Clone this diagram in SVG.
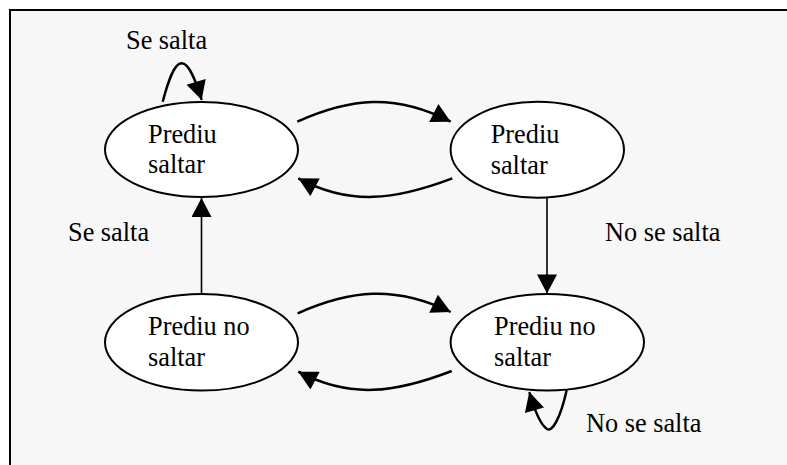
<svg xmlns="http://www.w3.org/2000/svg" width="787" height="465" viewBox="0 0 787 465">
  <style>
    .state { fill: #ffffff; stroke: #000000; stroke-width: 2; }
    .lbl { font-family: "Liberation Serif", "Times New Roman", serif; font-size: 26.3px; fill: #000000; }
    .edge { fill: none; stroke: #000000; stroke-width: 2.5; marker-end: url(#head); }
    .straight { stroke-width: 1.6; }
  </style>
  <defs>
    <marker id="head" markerUnits="userSpaceOnUse" markerWidth="20" markerHeight="20" viewBox="0 0 19 20" refX="19" refY="10" orient="auto">
      <path d="M0,0 L19,10 L0,20 z" fill="#000000"/>
    </marker>
  </defs>

  <!-- page background and frame -->
  <rect x="0" y="0" width="787" height="465" fill="#ffffff"/>
  <rect x="10" y="10" width="790" height="470" fill="#f7f7f7"/>
  <path d="M10,470 V10 H800" fill="none" stroke="#000000" stroke-width="2"/>

  <!-- transitions -->
  <g id="connectors">
    <path class="edge" d="M162.7,101.7 C168,82 174,63 181.7,63.3 C188,63.5 194,75 201.7,100"/>
    <path class="edge" d="M297.3,121.7 C350,98 395,93 450.7,121.7"/>
    <path class="edge" d="M452.3,178.3 C395,200 350,206 298.3,178.3"/>
    <path class="edge straight" d="M547,198 V293.5"/>
    <path class="edge straight" d="M201.5,294 V198"/>
    <path class="edge" d="M297.7,313.3 C350,290 395,285 450.7,312"/>
    <path class="edge" d="M451.7,371 C395,393 350,399 298.3,371.7"/>
    <path class="edge" d="M566.7,390 C560,420 552,432 547,429 C541,425 535,412 529.3,392"/>
  </g>

  <!-- states -->
  <g id="state-top-left">
    <ellipse class="state" cx="201.5" cy="149.5" rx="96.5" ry="47.5"/>
    <text class="lbl" x="148" y="143">Prediu</text>
    <text class="lbl" x="148" y="173">saltar</text>
  </g>
  <g id="state-top-right">
    <ellipse class="state" cx="537.3" cy="149.7" rx="86.7" ry="48"/>
    <text class="lbl" x="490.7" y="143">Prediu</text>
    <text class="lbl" x="490.7" y="174">saltar</text>
  </g>
  <g id="state-bottom-left">
    <ellipse class="state" cx="201.5" cy="342.3" rx="96.5" ry="48.3"/>
    <text class="lbl" x="148" y="335">Prediu no</text>
    <text class="lbl" x="148" y="366">saltar</text>
  </g>
  <g id="state-bottom-right">
    <ellipse class="state" cx="547.3" cy="342.3" rx="96.7" ry="48.3"/>
    <text class="lbl" x="494" y="335">Prediu no</text>
    <text class="lbl" x="494" y="366">saltar</text>
  </g>

  <!-- transition labels -->
  <g id="labels">
    <text class="lbl" x="126" y="49.3">Se salta</text>
    <text class="lbl" x="68" y="240.7">Se salta</text>
    <text class="lbl" x="605" y="240.7">No se salta</text>
    <text class="lbl" x="586" y="432.3">No se salta</text>
  </g>
</svg>
